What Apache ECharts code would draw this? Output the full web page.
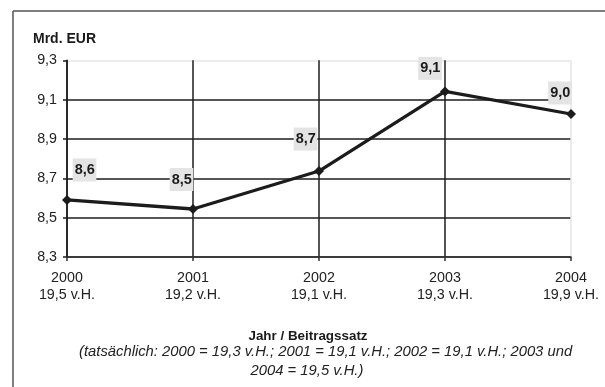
<!DOCTYPE html>
<html>
<head>
<meta charset="utf-8">
<script src="https://cdn.jsdelivr.net/npm/echarts@6/dist/echarts.min.js"></script>
<style>
  html, body { margin: 0; padding: 0; background: #fff; }
  #chart { width: 605px; height: 387px; }
</style>
</head>
<body>
<div id="chart"></div>
<script>
// Years and the contribution rate assumed for each year
const years = ['2000', '2001', '2002', '2003', '2004'];
const rates = ['19,5 v.H.', '19,2 v.H.', '19,1 v.H.', '19,3 v.H.', '19,9 v.H.'];
// Amount in billion EUR
const values = [8.59, 8.544, 8.737, 9.142, 9.027];
// Value axis ticks
const yMin = 8.3, yMax = 9.3, yStep = 0.2;
// Label placement around each point (dx, dy)
const labelOffsets = [[17.5, -30], [-11.5, -29.5], [-13.5, -32], [-15, -23], [-11, -21]];

const FONT = '"Liberation Sans", Arial, Helvetica, sans-serif';
const DARK = '#1c1c1c';
const PALE = '#e6e6e6';

const fmt = v => v.toFixed(1).replace('.', ',');

const chart = echarts.init(document.getElementById('chart'), null, { renderer: 'canvas' });

chart.setOption({
  animation: false,
  backgroundColor: '#fff',
  grid: { left: 67, right: 34, top: 60.3, bottom: 130, containLabel: false },
  xAxis: {
    type: 'category',
    boundaryGap: false,
    data: years.map((y, i) => y + '\n' + rates[i]),
    axisLine: { lineStyle: { color: '#333', width: 1.5 } },
    axisTick: { show: true, length: 4, inside: false, lineStyle: { color: '#333', width: 1.5 } },
    axisLabel: { margin: 13, fontFamily: FONT, fontSize: 14.3, lineHeight: 17, color: '#222', align: 'center' },
    splitLine: { show: true, interval: 0, lineStyle: { color: [DARK, DARK, DARK, DARK, PALE], width: 1.5 } }
  },
  yAxis: {
    type: 'value',
    min: yMin,
    max: yMax,
    interval: yStep,
    axisLine: { show: true, lineStyle: { color: DARK, width: 1.5 } },
    axisTick: { show: true, length: 4, lineStyle: { color: DARK, width: 1.5 } },
    axisLabel: { margin: 10, fontFamily: FONT, fontSize: 14.3, color: '#222', formatter: v => fmt(v) },
    splitLine: { show: true, lineStyle: { color: [DARK, DARK, DARK, DARK, DARK, PALE], width: 1.5 } }
  },
  series: [{
    type: 'line',
    data: values.map((v, i) => ({
      value: v,
      label: { offset: labelOffsets[i] }
    })),
    symbol: 'diamond',
    symbolSize: 10,
    lineStyle: { color: DARK, width: 3.3 },
    itemStyle: { color: DARK },
    label: {
      show: true,
      position: 'inside',
      align: 'center',
      verticalAlign: 'middle',
      formatter: p => fmt(p.value),
      fontFamily: FONT,
      fontSize: 14.5,
      fontWeight: 'bold',
      color: '#1a1a1a',
      backgroundColor: '#e4e4e4',
      padding: [4, 1.5, 4, 2]
    },
    z: 5
  }],
  graphic: [
    // Frame: left and top edges
    { type: 'line', shape: { x1: 13, y1: 11, x2: 13, y2: 387 }, style: { stroke: '#555', lineWidth: 1.5 } },
    { type: 'line', shape: { x1: 13, y1: 11, x2: 605, y2: 11 }, style: { stroke: '#555', lineWidth: 1.5 } },
    { type: 'text', left: 33, top: 32, style: { text: 'Mrd. EUR', font: 'bold 14px ' + FONT, fill: '#1a1a1a' } },
    { type: 'text', x: 308, y: 336, style: { text: 'Jahr / Beitragssatz', font: 'bold 13.4px ' + FONT, fill: '#1a1a1a', align: 'center', verticalAlign: 'middle' } },
    { type: 'text', x: 79, y: 352, style: { text: '(tatsächlich: 2000 = 19,3 v.H.; 2001 = 19,1 v.H.; 2002 = 19,1 v.H.; 2003 und', font: 'italic 14.8px ' + FONT, fill: '#222', align: 'left', verticalAlign: 'middle' } },
    { type: 'text', x: 307, y: 371, style: { text: '2004 = 19,5 v.H.)', font: 'italic 14.8px ' + FONT, fill: '#222', align: 'center', verticalAlign: 'middle' } }
  ]
});
</script>
</body>
</html>
